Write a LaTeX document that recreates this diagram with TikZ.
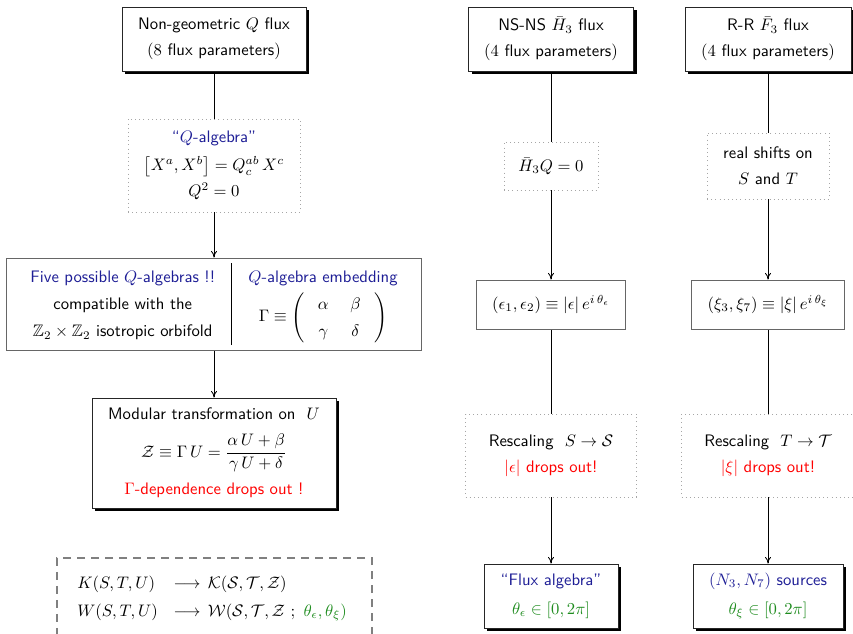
\documentclass[tikz,border=0pt]{standalone}
\usepackage{amsmath,amssymb}
\usepackage{fontspec}
\usetikzlibrary{arrows.meta,shadows,backgrounds,fit}
\definecolor{qblue}{RGB}{30,30,150}
\definecolor{qgreen}{RGB}{30,140,30}
\definecolor{qred}{RGB}{255,0,0}
\begin{document}
\begin{tikzpicture}[x=0.6pt,y=-0.6pt,
  every node/.style={font=\sffamily\fontsize{10}{15.5}\selectfont, align=center, inner sep=0pt},
  wh/.style 2 args={minimum width=#1*0.6pt, minimum height=#2*0.6pt},
  shbox/.style={draw=black!85, line width=0.5pt, fill=white,
    drop shadow={shadow xshift=1.8pt, shadow yshift=-1.8pt, fill=black, opacity=1}},
  plainbox/.style={draw=black!60, line width=0.5pt, fill=white},
  dotbox/.style={draw=black!35, dotted, line width=0.5pt, fill=white},
  dashbox/.style={draw=black!50, line width=0.9pt, dash pattern=on 4.8pt off 3.6pt},
  link/.style={draw=black, line width=0.5pt},
  conn/.style={link, -{To[length=4pt,width=3.6pt]}}
]
\useasboundingbox (0,0) rectangle (853,634);
\clip (0,0) rectangle (853,634);

% left column
\node[shbox, wh={184}{64}] (nq) at (214,39) {Non-geometric $Q$ flux\\$(8$ flux parameters$)$};
\node[dotbox, wh={172}{93}] (qa) at (214,165.5) {{\color{qblue}“$Q$-algebra”}\\[1.5pt] $\big[X^a,X^b\big]=Q^{ab}_c\,X^c$\\ $Q^2=0$};
\node[plainbox, wh={415}{92}] (five) at (214,304) {\renewcommand\arraystretch{1.06}\setlength\tabcolsep{10pt}%
  \begin{tabular}{c|c}
  \begin{tabular}{@{}c@{}}{\color{qblue}Five possible $Q$-algebras !!}\\ compatible with the\\ $\mathbb{Z}_2\times\mathbb{Z}_2$ isotropic orbifold\end{tabular}
  &
  \begin{tabular}{@{}c@{}}{\color{qblue}$Q$-algebra embedding}\\ $\Gamma\equiv\left(\begin{array}{@{\hspace{8pt}}c@{\hspace{13pt}}c@{\hspace{8pt}}}\alpha&\beta\\ \gamma&\delta\end{array}\right)$\end{tabular}
  \end{tabular}};
\node[shbox, wh={244}{110}] (mod) at (214,453) {Modular transformation on\ \ $U$\\[7pt] $\mathcal{Z}\equiv\Gamma\,U=\dfrac{\alpha\,U+\beta}{\gamma\,U+\delta}$\\[6pt] {\color{qred}$\Gamma$-dependence drops out !}};

\coordinate (dtl) at (57,558);
\coordinate (dbr) at (372,670);
\node[dashbox, fit=(dtl)(dbr), inner sep=0pt] (dbox) {};
\node[anchor=west] (kw) at (77,597) {\renewcommand\arraystretch{1.06}$\begin{array}{@{}l@{\hspace{9.5pt}}c@{\hspace{4.5pt}}l@{}}
  K(S,T,U) & \longrightarrow & \mathcal{K}(\mathcal{S},\mathcal{T},\mathcal{Z})\\
  W(S,T,U) & \longrightarrow & \mathcal{W}(\mathcal{S},\mathcal{T},\mathcal{Z}\ ;\ {\color{qgreen}\theta_\epsilon,\theta_\xi)}
  \end{array}$};

% middle column
\node[shbox, wh={165}{64}] (ns) at (551,39) {NS-NS $\bar{H}_3$ flux\\$(4$ flux parameters$)$};
\node[dotbox, wh={94}{48}] (h3q) at (551,166) {$\bar{H}_3Q=0$};
\node[plainbox, wh={149}{49}] (eps) at (551,304.5) {$(\epsilon_1,\epsilon_2)\equiv|\epsilon|\,e^{i\,\theta_\epsilon}$};
\node[dotbox, wh={171}{83}] (ress) at (551,455.5) {Rescaling\ \ $S\to\mathcal{S}$\\{\color{qred}$|\epsilon|$ drops out!}};
\node[shbox, wh={134}{64}] (flux) at (551,596) {{\color{qblue}“Flux algebra”}\\[2pt]{\color{qgreen}$\theta_\epsilon\in[0,2\pi]$}};

% right column
\node[shbox, wh={166}{64}] (rr) at (768,39) {R-R $\bar{F}_3$ flux\\$(4$ flux parameters$)$};
\node[dotbox, wh={122}{66}] (real) at (768,166) {real shifts on\\$S$ and $T$};
\node[plainbox, wh={153}{49}] (xi) at (768,304.5) {$(\xi_3,\xi_7)\equiv|\xi|\,e^{i\,\theta_\xi}$};
\node[dotbox, wh={173}{83}] (rest) at (768,455.5) {Rescaling\ \ $T\to\mathcal{T}$\\{\color{qred}$|\xi|$ drops out!}};
\node[shbox, wh={150}{64}] (n3) at (768,596) {{\color{qblue}$(N_3,N_7)$ sources}\\[2pt]{\color{qgreen}$\theta_\xi\in[0,2\pi]$}};

\begin{pgfonlayer}{background}
\draw[link] (nq) -- (qa);
\draw[conn] (qa) -- (five);
\draw[conn] (five) -- (mod);
\draw[link] (ns) -- (h3q);
\draw[conn] (h3q) -- (eps);
\draw[link] (eps) -- (ress);
\draw[conn] (ress) -- (flux);
\draw[link] (rr) -- (real);
\draw[conn] (real) -- (xi);
\draw[link] (xi) -- (rest);
\draw[conn] (rest) -- (n3);
\end{pgfonlayer}
\end{tikzpicture}
\end{document}
